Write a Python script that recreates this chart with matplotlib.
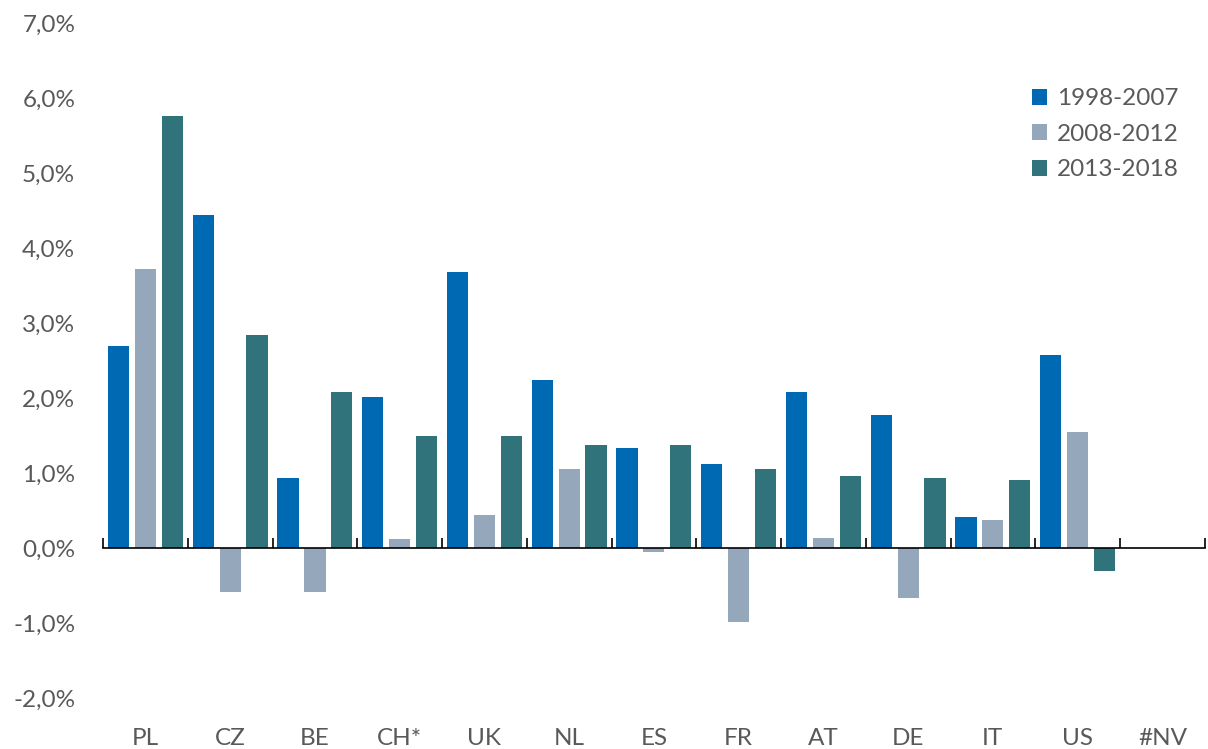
#!/usr/bin/env python3
"""Grouped bar chart: growth rates per country for three periods."""

import matplotlib

matplotlib.use("Agg")
import matplotlib.pyplot as plt
import matplotlib.transforms as mtransforms
import numpy as np

countries = ["PL", "CZ", "BE", "CH*", "UK", "NL", "ES", "FR", "AT", "DE", "IT", "US", "#NV"]
periods = ["1998-2007", "2008-2012", "2013-2018"]
p1998 = [2.70, 4.44, 0.94, 2.02, 3.68, 2.24, 1.34, 1.12, 2.08, 1.77, 0.42, 2.57, np.nan]
p2008 = [3.72, -0.58, -0.58, 0.12, 0.44, 1.05, -0.05, -0.98, 0.14, -0.66, 0.38, 1.55, np.nan]
p2013 = [5.76, 2.84, 2.08, 1.49, 1.49, 1.38, 1.37, 1.05, 0.96, 0.93, 0.91, -0.30, np.nan]
yticks = [-2, -1, 0, 1, 2, 3, 4, 5, 6, 7]

COLORS = ["#0069B4", "#94A7BB", "#30737B"]
TEXT = "#595959"
FS = 17.5

plt.rcParams["font.family"] = ["Lato", "DejaVu Sans"]

fig = plt.figure(figsize=(12.08, 7.49), dpi=100)
ax = fig.add_axes([0.0853, 0.0681, 0.912, 0.901])

x = np.arange(len(countries))
width = 0.25
for k, (vals, label) in enumerate(zip([p1998, p2008, p2013], periods)):
    ax.bar(x + (k - 1) * 0.317, vals, width, color=COLORS[k], label=label)

ax.set_xlim(-0.5, len(countries) - 0.5)
ax.set_ylim(-2, 7)
ax.set_yticks(yticks)
ax.set_yticklabels([f"{v:.1f}%".replace(".", ",") for v in yticks])
ax.tick_params(axis="y", length=0, pad=20, labelsize=FS, labelcolor=TEXT)

for side in ["left", "right", "top"]:
    ax.spines[side].set_visible(False)
ax.spines["bottom"].set_position(("data", 0))
ax.spines["bottom"].set_linewidth(1.2)

# tick marks at category boundaries, labels along the bottom of the plot
ax.set_xticks(np.arange(len(countries) + 1) - 0.5)
ax.set_xticklabels([])
ax.tick_params(axis="x", direction="in", length=7, width=1.2)
trans = mtransforms.blended_transform_factory(ax.transData, ax.transAxes)
for i, name in enumerate(countries):
    ax.text(i, -0.06, name, transform=trans, ha="center", va="center",
            fontsize=FS, color=TEXT)

leg = ax.legend(loc="upper left", bbox_to_anchor=(0.823, 0.936), frameon=False,
                fontsize=FS, handlelength=0.65, handleheight=0.65,
                handletextpad=0.4, labelspacing=0.6)
for t in leg.get_texts():
    t.set_color(TEXT)

fig.savefig("out.png", dpi=100)
